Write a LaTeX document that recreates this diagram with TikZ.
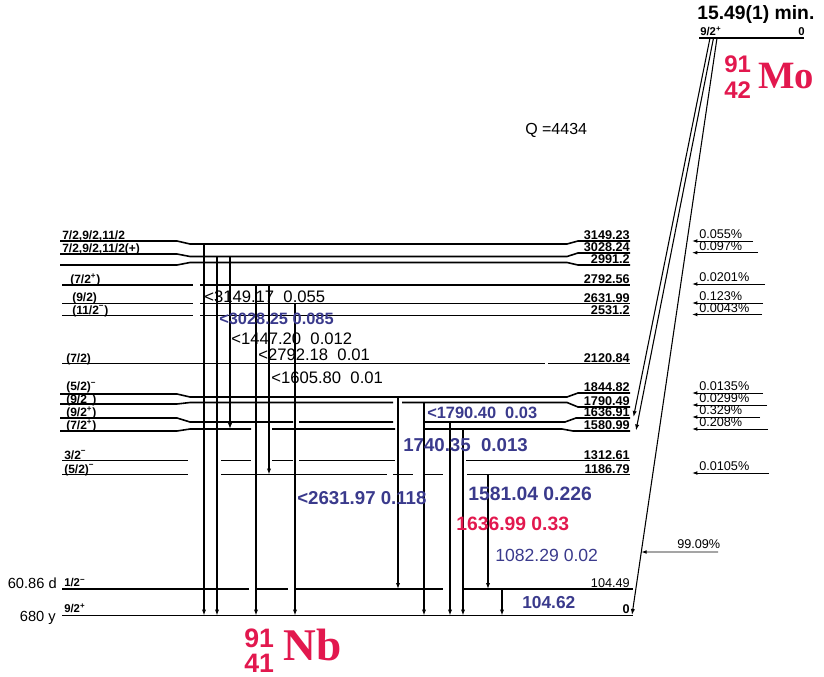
\documentclass[tikz,border=0pt]{standalone}
\usepackage{fontspec}
\setmainfont{Liberation Sans}
\newfontfamily\serifbf{Liberation Serif}
\usetikzlibrary{arrows.meta,calc}
\definecolor{navy}{RGB}{58,58,140}
\definecolor{crimson}{RGB}{226,24,78}
\begin{document}
\begin{tikzpicture}[x=0.75pt, y=-0.75pt,
  lvl/.style={line width=1.2pt},
  gam/.style={line width=0.8pt, -{Latex[length=4.5pt,width=3.2pt]}},
  feed/.style={line width=0.7pt, -{Latex[length=4pt,width=2.8pt]}},
  en/.style={anchor=base east, inner sep=0pt, font=\fontsize{9.5}{9.5}\selectfont\bfseries},
  spin/.style={anchor=base west, inner sep=0pt, font=\fontsize{9}{9}\selectfont\bfseries},
  pct/.style={anchor=base west, inner sep=0pt, font=\fontsize{9.5}{9.5}\selectfont},
  glab/.style={anchor=base west, inner sep=0pt, font=\fontsize{12.5}{12.5}\selectfont},
  gbold/.style={anchor=base west, inner sep=0pt, text=navy, font=\fontsize{#1}{#1}\selectfont\bfseries},
  gbold/.default=12.5]
  \useasboundingbox (0,0) rectangle (824,677);
  % Parent level 91Mo
  \node[anchor=base west, inner sep=0pt, font=\fontsize{14.5}{14.5}\selectfont\bfseries] (tmo) at (697,20) {15.49(1) min.};
  \draw[lvl] (699,38) -- (804,38);
  \node[en, font=\fontsize{8.5}{8.5}\selectfont\bfseries, anchor=base west] (smo) at (700,35.5) {9/2\textsuperscript{+}};
  \node[en, font=\fontsize{8.5}{8.5}\selectfont\bfseries] (emo) at (805,35.5) {0};
  \coordinate (pA) at (710,38);
  \coordinate (pB) at (713.5,38);
  \coordinate (pC) at (717,38);
  \node[anchor=base west, inner sep=0pt, text=crimson, font=\fontsize{18}{18}\selectfont\bfseries] (amo) at (724,73) {91};
  \node[anchor=base west, inner sep=0pt, text=crimson, font=\fontsize{18}{18}\selectfont\bfseries] (zmo) at (724,99) {42};
  \node[anchor=base west, inner sep=0pt, text=crimson, font=\fontsize{29}{29}\serifbf\bfseries] (mo) at (758,89) {Mo};
  \node[anchor=base west, inner sep=0pt, font=\fontsize{12}{12}\selectfont] (q) at (525,135) {Q =4434};
  % Levels of 91Nb
  \draw[lvl] (60,241) -- (177,241) -- (190,244) -- (567,244) -- (578,241) -- (630,241);
  \coordinate (L3149) at (190,244);
  \node[en] (e3149) at (630,239.5) {3149.23};
  \node[spin] (s3149) at (62,239.5) {7/2,9/2,11/2};
  \draw[lvl] (60,254) -- (177,254) -- (190,256.5) -- (567,256.5) -- (578,253) -- (630,253);
  \coordinate (L3028) at (190,256.5);
  \node[en] (e3028) at (630,251.5) {3028.24};
  \node[spin] (s3028) at (62,252.5) {7/2,9/2,11/2(+)};
  \draw[lvl] (60,265) -- (177,265) -- (190,262.5) -- (567,262.5) -- (578,265) -- (630,265);
  \node[en] (e2991) at (630,263.5) {2991.2};
  \draw[lvl] (62,285) -- (193,285) (200,285) -- (630,285);
  \coordinate (L2792) at (200,285);
  \node[en] (e2792) at (630,283.5) {2792.56};
  \node[spin] (s2792) at (70,283.5) {(7/2\textsuperscript{+})};
  \draw[lvl] (62,303.5) -- (193,303.5) (200,303.5) -- (630,303.5);
  \coordinate (L2631) at (200,303.5);
  \node[en] (e2631) at (630,302) {2631.99};
  \node[spin] (s2631) at (72,301.5) {(9/2)};
  \draw[lvl] (62,315.5) -- (193,315.5) (200,315.5) -- (630,315.5);
  \node[en] (e2531) at (630,314) {2531.2};
  \node[spin] (s2531) at (72,314) {(11/2\textsuperscript{−})};
  \draw[lvl] (62,363.5) -- (545,363.5) (548,363.5) -- (630,363.5);
  \node[en] (e2120) at (630,362) {2120.84};
  \node[spin] (s2120) at (66,362) {(7/2)};
  \draw[lvl] (60,394) -- (177,394) -- (190,397) -- (567,397) -- (578,393) -- (630,393);
  \coordinate (L1844) at (190,397);
  \node[spin] (s1844) at (66,390.5) {(5/2)\textsuperscript{−}};
  \node[en] (e1844) at (630,391.5) {1844.82};
  \draw[lvl] (60,404) -- (177,404) -- (190,402.5) -- (393,402.5) (402,402.5) -- (567,402.5) -- (578,407) -- (630,407);
  \coordinate (L1790) at (190,402.5);
  \node[en] (e1790) at (630,405.5) {1790.49};
  \node[spin] (s1790) at (66,403) {(9/2\textsuperscript{−})};
  \draw[lvl] (60,418) -- (177,418) -- (190,422) -- (293,422) (299,422) -- (393,422) (425,422) -- (565,422) -- (576,418) -- (630,418);
  \coordinate (L1636) at (190,422);
  \node[en] (e1636) at (630,416.5) {1636.91};
  \node[spin] (s1636) at (66,416.5) {(9/2\textsuperscript{+})};
  \draw[lvl] (60,431) -- (177,431) -- (190,429) -- (251,429) (272,429) -- (395,429) (425,429) -- (562,429) -- (573,431) -- (630,431);
  \coordinate (L1580) at (190,429);
  \node[en] (e1580) at (630,429.5) {1580.99};
  \node[spin] (s1580) at (66,429.5) {(7/2\textsuperscript{+})};
  \draw[lvl] (62,460.5) -- (188,460.5) (221,460.5) -- (251,460.5) (272,460.5) -- (293,460.5) (299,460.5) -- (395,460.5) (466,460.5) -- (630,460.5);
  \node[en] (e1312) at (630,459) {1312.61};
  \node[spin] (s1312) at (64,459) {3/2\textsuperscript{−}};
  \draw[lvl] (62,474.5) -- (188,474.5) (221,474.5) -- (387,474.5) (393,474.5) -- (413,474.5) (423,474.5) -- (443,474.5) (467,474.5) -- (630,474.5);
  \coordinate (L1186) at (221,474.5);
  \node[en] (e1186) at (630,473) {1186.79};
  \node[spin] (s1186) at (64,473) {(5/2)\textsuperscript{−}};
  \draw[lvl] (62,589) -- (249,589) (257,589) -- (288,589) (296,589) -- (443,589) (463,589) -- (633,589);
  \coordinate (L104) at (62,589);
  \node[en, font=\fontsize{9.5}{9.5}\selectfont] (e104) at (630,587) {104.49};
  \node[spin, font=\fontsize{8.5}{8.5}\selectfont\bfseries] (s104) at (64,586.5) {1/2\textsuperscript{−}};
  \node[anchor=base east, inner sep=0pt, font=\fontsize{11}{11}\selectfont] (t104) at (57,588) {60.86 d};
  \draw[lvl] (62,615.5) -- (633,615.5);
  \coordinate (L0) at (62,615.5);
  \node[en] (e0) at (630,613.5) {0};
  \node[spin, font=\fontsize{8.5}{8.5}\selectfont\bfseries] (s0) at (64,612) {9/2\textsuperscript{+}};
  \node[anchor=base east, inner sep=0pt, font=\fontsize{11}{11}\selectfont] (t0) at (56,621) {680 y};
  \node[anchor=base west, inner sep=0pt, text=crimson, font=\fontsize{20}{20}\selectfont\bfseries] (anb) at (244,647) {91};
  \node[anchor=base west, inner sep=0pt, text=crimson, font=\fontsize{20}{20}\selectfont\bfseries] (znb) at (244,672) {41};
  \node[anchor=base west, inner sep=0pt, text=crimson, font=\fontsize{34}{34}\serifbf\bfseries] (nb) at (283,660) {Nb};
  % Gamma transitions
  \draw[gam] (204,0 |- L3149) -- (204,0 |- L0);
  \draw[gam] (217,0 |- L3028) -- (217,0 |- L0);
  \draw[gam] (230,0 |- L3028) -- (230,0 |- L1580);
  \draw[gam] (256,0 |- L2792) -- (256,0 |- L0);
  \draw[gam] (269,0 |- L2792) -- (269,0 |- L1186);
  \draw[gam] (295,0 |- L2631) -- (295,0 |- L0);
  \draw[gam] (398,0 |- L1844) -- (398,0 |- L104);
  \draw[gam] (424,0 |- L1790) -- (424,0 |- L0);
  \draw[gam] (450,0 |- L1636) -- (450,0 |- L0);
  \draw[gam] (463,0 |- L1580) -- (463,0 |- L0);
  \draw[gam] (488,0 |- L1186) -- (488,0 |- L104);
  \draw[gam] (502,0 |- L104) -- (502,0 |- L0);
  \node[glab] (g3149) at (204,302.7) {<3149.17\ \ 0.055};
  \node[gbold=12.3] (g3028) at (219,324) {<3028.25 0.085};
  \node[glab] (g1447) at (231,344) {<1447.20\ \ 0.012};
  \node[glab] (g2792) at (258,360) {<2792.18\ \ 0.01};
  \node[glab] (g1605) at (271,383) {<1605.80\ \ 0.01};
  \node[gbold=12.3] (g1790) at (427,418) {<1790.40\ \ 0.03};
  \node[gbold=14] (g1740) at (403,451.5) {1740.35\ \ 0.013};
  \node[gbold=14] (g2631) at (297,504) {<2631.97 0.118};
  \node[gbold=14.5] (g1581) at (468,500.5) {1581.04 0.226};
  \node[gbold=14.5, text=crimson] (g1636) at (456,530.5) {1636.99 0.33};
  \node[glab, text=navy, font=\fontsize{13.2}{13.2}\selectfont] (g1082) at (495,561.5) {1082.29 0.02};
  \node[gbold=13] (g104) at (522,608) {104.62};
  % Beta decay branches
  \draw[gam] (pA) -- (633.5,417);
  \draw[gam] (pB) -- (636,430.5);
  \draw[gam] (pC) -- (632,615);
  \coordinate (bC) at ($(pC)!0.8908!(632,615)$);
  % Feeding intensities
  \draw[feed] (753,241) -- (692,241);
  \node[pct] (f3149) at (699,238.5) {0.055\%};
  \draw[feed] (758,252.7) -- (692,252.7);
  \node[pct] (f3028) at (699,250.2) {0.097\%};
  \draw[feed] (765,284) -- (692,284);
  \node[pct] (f2792) at (699,281.5) {0.0201\%};
  \draw[feed] (763,303) -- (692,303);
  \node[pct] (f2631) at (699,300.5) {0.123\%};
  \draw[feed] (762,314.5) -- (692,314.5);
  \node[pct] (f2531) at (699,312) {0.0043\%};
  \draw[feed] (763,393) -- (692,393);
  \node[pct] (f1844) at (699,390.5) {0.0135\%};
  \draw[feed] (767,405) -- (692,405);
  \node[pct] (f1790) at (699,402.5) {0.0299\%};
  \draw[feed] (760,417) -- (692,417);
  \node[pct] (f1636) at (699,414.5) {0.329\%};
  \draw[feed] (768,429) -- (692,429);
  \node[pct] (f1580) at (699,426.5) {0.208\%};
  \draw[feed] (769,473) -- (692,473);
  \node[pct] (f1186) at (699,470.5) {0.0105\%};
  \draw[feed] (718,552) -- (bC);
  \node[pct] (f0) at (677,548) {99.09\%};
\end{tikzpicture}
\end{document}
